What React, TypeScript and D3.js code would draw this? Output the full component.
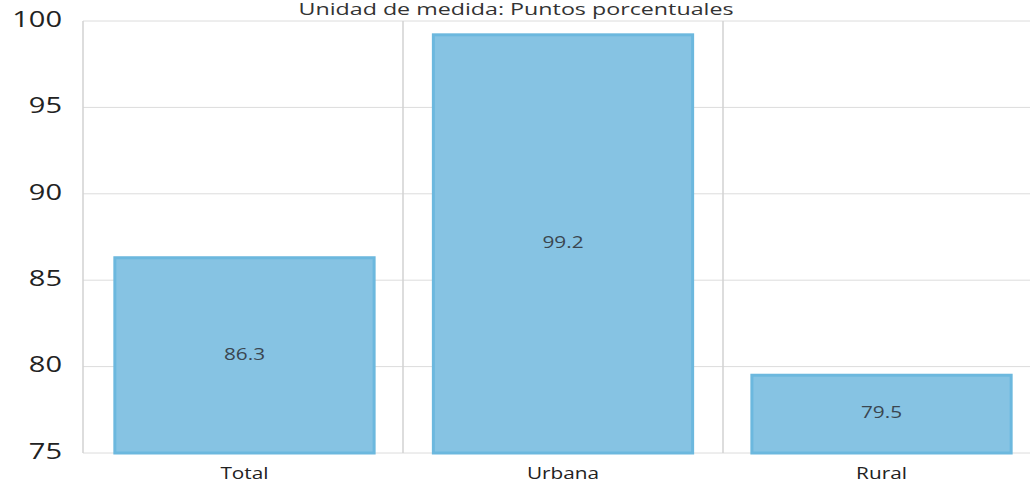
import React from 'react'
import * as d3 from 'd3'

const categories = ['Total', 'Urbana', 'Rural']
const values = [86.3, 99.2, 79.5]
const yTicks = [75, 80, 85, 90, 95, 100]
const title = 'Unidad de medida: Puntos porcentuales'

const W = 1030
const H = 482
const margin = { top: 21, right: -13, bottom: 29, left: 83 }

const App = () => {
    const x = d3.scaleBand<string>()
        .domain(categories)
        .range([margin.left, W - margin.right])
        .paddingInner(0.186)
        .paddingOuter(0.1)
    const y = d3.scaleLinear()
        .domain([75, 100])
        .range([H - margin.bottom, margin.top])

    const step = (W - margin.right - margin.left) / categories.length
    const bounds = d3.range(categories.length + 1).map((i) => margin.left + i * step)
    const font = '"Open Sans", sans-serif'

    return (
        <svg width={W} height={H} style={{ position: 'absolute', left: 0, top: 0, background: '#fff' }}>
            {yTicks.map((t) => (
                <line key={t} x1={margin.left} x2={W} y1={y(t)} y2={y(t)} stroke='#dcdcdc' strokeWidth={1} />
            ))}
            {bounds.map((b, i) => (
                <line key={i} x1={b} x2={b} y1={margin.top} y2={y(75)} stroke='#d2d2d2' strokeWidth={1.5} />
            ))}
            {categories.map((c, i) => (
                <rect key={c} x={x(c)} y={y(values[i])} width={x.bandwidth()} height={y(75) - y(values[i])}
                    fill='#86c3e3' stroke='#6cb8de' strokeWidth={3} />
            ))}
            {categories.map((c, i) => (
                <text key={c} transform={`translate(${(x(c) as number) + x.bandwidth() / 2},${(y(values[i]) + y(75)) / 2}) scale(1.3,1)`}
                    textAnchor='middle' dominantBaseline='middle' fontFamily={font} fontSize={16} fill='#3a4650'>
                    {values[i].toFixed(1)}
                </text>
            ))}
            {categories.map((c) => (
                <text key={c} transform={`translate(${(x(c) as number) + x.bandwidth() / 2},${H - 3}) scale(1.3,1)`}
                    textAnchor='middle' fontFamily={font} fontSize={16} fill='#222'>
                    {c}
                </text>
            ))}
            {yTicks.map((t) => (
                <text key={t} transform={`translate(62,${y(t)}) scale(1.32,1)`}
                    textAnchor='end' dominantBaseline='middle' fontFamily={font} fontSize={22} fill='#222'>
                    {t}
                </text>
            ))}
            <text transform={`translate(516,15) scale(1.5,1)`} textAnchor='middle' fontFamily={font} fontSize={15.5} fill='#333'>
                {title}
            </text>
        </svg>
    )
}

export default App
